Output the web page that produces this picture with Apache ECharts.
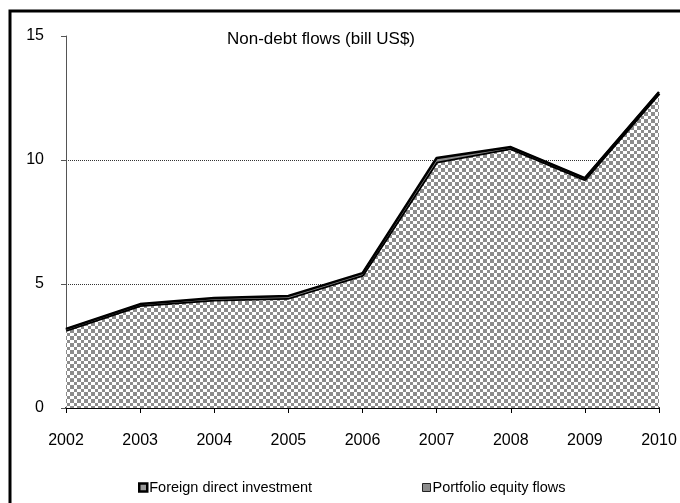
<!DOCTYPE html>
<html><head><meta charset="utf-8">
<script src="https://cdn.jsdelivr.net/npm/echarts@6/dist/echarts.min.js"></script>
<style>html,body{margin:0;padding:0;background:#fff}#c{width:680px;height:503px}</style>
</head><body><div id="c"></div>
<script>
var years = ['2002','2003','2004','2005','2006','2007','2008','2009','2010'];
var fdi = [3.14,4.14,4.36,4.44,5.36,9.93,10.47,9.22,12.69];
var portfolio = [0.05,0.05,0.08,0.08,0.08,0.15,0.05,0.05,0.05];
var titleText = 'Non-debt flows (bill US$)';
var seriesNames = ['Foreign direct investment','Portfolio equity flows'];

var pc = document.createElement('canvas');
pc.width = 7; pc.height = 7;
var ctx = pc.getContext('2d');
ctx.fillStyle = '#ffffff'; ctx.fillRect(0,0,7,7);
ctx.fillStyle = '#8c8c8c';
ctx.fillRect(0,0,4,4); ctx.fillRect(4,4,3,3);

var font = "'Liberation Sans', Arial, sans-serif";
var chart = echarts.init(document.getElementById('c'), null, {renderer:'canvas'});
chart.setOption({
  animation:false,
  backgroundColor:'#fff',
  title:{text:titleText,left:316,textAlign:'center',top:26,textStyle:{fontFamily:font,fontSize:17,fontWeight:'normal',color:'#000'}},
  grid:{left:66,right:21,top:36,bottom:95,containLabel:false},
  graphic:[{type:'rect',shape:{x:10,y:11,width:700,height:520},style:{fill:'none',stroke:'#000',lineWidth:3},silent:true,z:100}],
  legend:[
    {data:[{name:seriesNames[0],itemStyle:{color:'#999',borderColor:'#000',borderWidth:2.5}}],left:133,top:475,itemWidth:8,itemHeight:8,itemGap:4,textStyle:{fontFamily:font,fontSize:14.5,color:'#000',padding:[0,0,0,-3]},icon:'rect'},
    {data:[{name:seriesNames[1],itemStyle:{color:'#8c8c8c',borderColor:'#222',borderWidth:1}}],left:417,top:475,itemWidth:8,itemHeight:8,itemGap:4,textStyle:{fontFamily:font,fontSize:14.5,color:'#000',padding:[0,0,0,-3]},icon:'rect'}
  ],
  xAxis:{type:'category',data:years,boundaryGap:false,
    axisLine:{lineStyle:{color:'#000',width:2}},
    axisTick:{show:true,length:5,lineStyle:{color:'#000'}},
    axisLabel:{fontFamily:font,fontSize:16,color:'#000',margin:25}},
  yAxis:{type:'value',min:0,max:15,interval:5,
    axisLine:{show:true,lineStyle:{color:'#555',width:1}},
    axisTick:{show:true,inside:false,length:5,lineStyle:{color:'#555'}},
    axisLabel:{fontFamily:font,fontSize:16,color:'#000',margin:22},
    splitLine:{show:true,lineStyle:{color:['rgba(0,0,0,0)','#333','#333','rgba(0,0,0,0)'],type:[1,1],width:1}}},
  series:[
    {name:seriesNames[0],type:'line',stack:'t',data:fdi,showSymbol:false,symbol:'none',
      lineStyle:{color:'#000',width:3.5},itemStyle:{color:'#888'},
      areaStyle:{color:{image:pc,repeat:'repeat'},opacity:1},z:3},
    {name:seriesNames[1],type:'line',stack:'t',data:portfolio,showSymbol:false,symbol:'none',
      lineStyle:{color:'#000',width:2.5},itemStyle:{color:'#888'},
      areaStyle:{color:'#888',opacity:1},z:4}
  ]
});
</script></body></html>
